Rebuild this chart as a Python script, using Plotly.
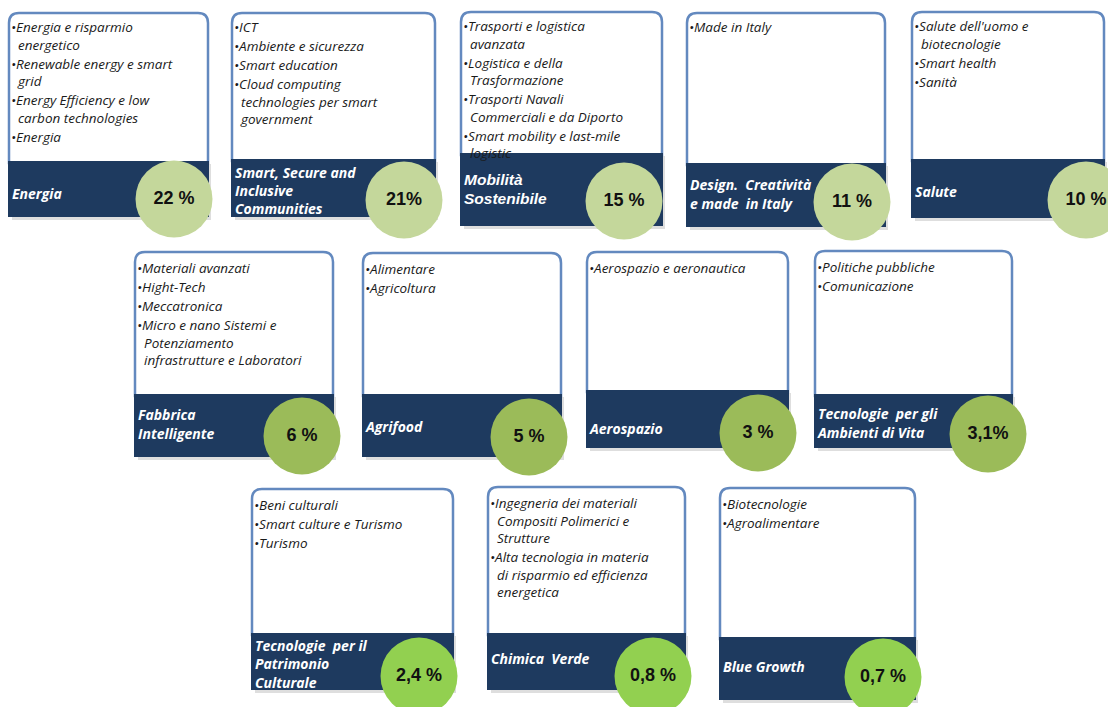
import plotly.graph_objects as go

# ---- data -------------------------------------------------------------
areas = [
    "Energia",
    "Smart, Secure and Inclusive Communities",
    "Mobilità Sostenibile",
    "Design. Creatività e made in Italy",
    "Salute",
    "Fabbrica Intelligente",
    "Agrifood",
    "Aerospazio",
    "Tecnologie per gli Ambienti di Vita",
    "Tecnologie per il Patrimonio Culturale",
    "Chimica Verde",
    "Blue Growth",
]

# share of each area (%)
shares = [22, 21, 15, 11, 10, 6, 5, 3, 3.1, 2.4, 0.8, 0.7]
# whether the label is written with a space before the % sign
pct_spaced = [True, False, True, True, True, True, True, True, False, True, True, True]

# sub-topics listed in each card (each item may wrap on several lines)
topics = [
    [["Energia e risparmio", "energetico"], ["Renewable energy e smart", "grid"],
     ["Energy Efficiency e low", "carbon technologies"], ["Energia"]],
    [["ICT"], ["Ambiente e sicurezza"], ["Smart education"],
     ["Cloud computing", "technologies per smart", "government"]],
    [["Trasporti e logistica", "avanzata"], ["Logistica e della", "Trasformazione"],
     ["Trasporti Navali", "Commerciali e da Diporto"], ["Smart mobility e last-mile", "logistic"]],
    [["Made in Italy"]],
    [["Salute dell'uomo e", "biotecnologie"], ["Smart health"], ["Sanità"]],
    [["Materiali avanzati"], ["Hight-Tech"], ["Meccatronica"],
     ["Micro e nano Sistemi e", "Potenziamento", "infrastrutture e Laboratori"]],
    [["Alimentare"], ["Agricoltura"]],
    [["Aerospazio e aeronautica"]],
    [["Politiche pubbliche"], ["Comunicazione"]],
    [["Beni culturali"], ["Smart culture e Turismo"], ["Turismo"]],
    [["Ingegneria dei materiali", "Compositi Polimerici e", "Strutture"],
     ["Alta tecnologia in materia", "di risparmio ed efficienza", "energetica"]],
    [["Biotecnologie"], ["Agroalimentare"]],
]

# title as it wraps inside the dark band
title_lines = [
    ["Energia"],
    ["Smart, Secure and", "Inclusive", "Communities"],
    ["Mobilità", "Sostenibile"],
    ["Design.\u00a0 Creatività", "e made\u00a0 in Italy"],
    ["Salute"],
    ["Fabbrica", "Intelligente"],
    ["Agrifood"],
    ["Aerospazio"],
    ["Tecnologie\u00a0 per gli", "Ambienti di Vita"],
    ["Tecnologie\u00a0 per il", "Patrimonio", "Culturale"],
    ["Chimica\u00a0 Verde"],
    ["Blue Growth"],
]

# ---- layout of the cards (pixels) --------------------------------------
# left, top, right, band top, band bottom, circle x, circle y, row
cards = [
    (9, 13, 208, 161, 217, 174, 199, 0),
    (232, 13, 435, 159, 217, 404, 200, 0),
    (461, 12, 662, 153, 226, 624, 201, 0),
    (687, 13, 885, 163, 227, 852, 202, 0),
    (912, 12, 1104, 159, 218, 1086, 200, 0),
    (135, 252, 333, 394, 457, 302, 436, 1),
    (363, 253, 561, 394, 457, 529, 437, 1),
    (587, 252, 788, 390, 448, 758, 433, 1),
    (815, 251, 1012, 394, 448, 988, 434, 1),
    (252, 489, 453, 633, 690, 419, 676, 2),
    (488, 487, 685, 633, 690, 653, 676, 2),
    (720, 488, 915, 637, 700, 883, 677, 2),
]
title_y = [
    [195], [174, 192, 210], [181, 200], [186, 205], [193],
    [416, 435], [428], [430], [415, 434],
    [647, 665, 684], [660], [668],
]

W, H = 1108, 707
BORDER = "#6389bf"
BAND = "#1e3a5f"
ROW_GREEN = ["#c4d79b", "#9bbb59", "#92d050"]
TEXT_FONT = "Open Sans"

fig = go.Figure()
shapes = []


def box_path(l, t, r, b, rad=10):
    return (f"M {l},{b} L {l},{t + rad} Q {l},{t} {l + rad},{t} "
            f"L {r - rad},{t} Q {r},{t} {r},{t + rad} L {r},{b}")


for (l, t, r, bt, bb, cx, cy, row) in cards:
    # soft shadow under the band
    shapes.append(dict(type="rect", x0=l + 3, x1=r + 3, y0=bt + 3, y1=bb + 3,
                       fillcolor="rgba(0,0,0,0.13)", line_width=0, layer="below"))
    # white card with rounded top corners
    shapes.append(dict(type="path", path=box_path(l, t, r, bt + 2) + " Z",
                       fillcolor="white", line=dict(color=BORDER, width=2.5),
                       layer="below"))
    # dark title band
    shapes.append(dict(type="rect", x0=l - 1, x1=r + 1, y0=bt, y1=bb,
                       fillcolor=BAND, line_width=0, layer="below"))

# bullet lists
bx, by, btxt = [], [], []
for (l, t, r, bt, bb, cx, cy, row), items in zip(cards, topics):
    y = t + (16 if row == 0 else 18)
    for item in items:
        for k, line in enumerate(item):
            if k == 0:
                bx.append(l + 2)
                btxt.append("•" + line)
            else:
                bx.append(l + 9)
                btxt.append(line)
            by.append(y)
            y += 17.5
        y += 1.5

fig.add_trace(go.Scatter(
    x=bx, y=by, text=btxt, mode="text", textposition="middle right",
    textfont=dict(family=TEXT_FONT, size=13.5, color="#1a1a1a", style="italic"),
    hoverinfo="skip", showlegend=False))

# band titles
tx, ty, tt = [], [], []
for i, ((l, t, r, bt, bb, cx, cy, row), lines) in enumerate(zip(cards, title_lines)):
    if i == 2:
        continue
    for line, y in zip(lines, title_y[i]):
        tx.append(l + 3)
        ty.append(y)
        tt.append(line)

fig.add_trace(go.Scatter(
    x=tx, y=ty, text=tt, mode="text", textposition="middle right",
    textfont=dict(family=TEXT_FONT, size=14, color="white", style="italic",
                  weight="bold"),
    hoverinfo="skip", showlegend=False))

m = cards[2]
fig.add_trace(go.Scatter(
    x=[m[0] + 3] * len(title_lines[2]), y=title_y[2], text=title_lines[2],
    mode="text", textposition="middle right",
    textfont=dict(family="Liberation Sans", size=15.5, color="white", style="italic",
                  weight="bold"),
    hoverinfo="skip", showlegend=False))


def pct_label(v, spaced):
    s = f"{v:g}".replace(".", ",")
    return s + (" %" if spaced else "%")


labels = [pct_label(v, s) for v, s in zip(shares, pct_spaced)]

fig.add_trace(go.Scatter(
    x=[c[5] for c in cards], y=[c[6] for c in cards],
    mode="markers+text", text=labels, textposition="middle center",
    marker=dict(size=77, color=[ROW_GREEN[c[7]] for c in cards], line_width=0),
    textfont=dict(family="Liberation Sans", size=18, color="#111111", weight="bold"),
    customdata=areas, hovertemplate="%{customdata}: %{text}<extra></extra>",
    showlegend=False))

fig.update_layout(
    width=W, height=H, margin=dict(l=0, r=0, t=0, b=0),
    paper_bgcolor="white", plot_bgcolor="white",
    shapes=shapes,
    xaxis=dict(range=[0, W], visible=False, fixedrange=True),
    yaxis=dict(range=[H, 0], visible=False, fixedrange=True),
)

fig.write_html("out.html")
